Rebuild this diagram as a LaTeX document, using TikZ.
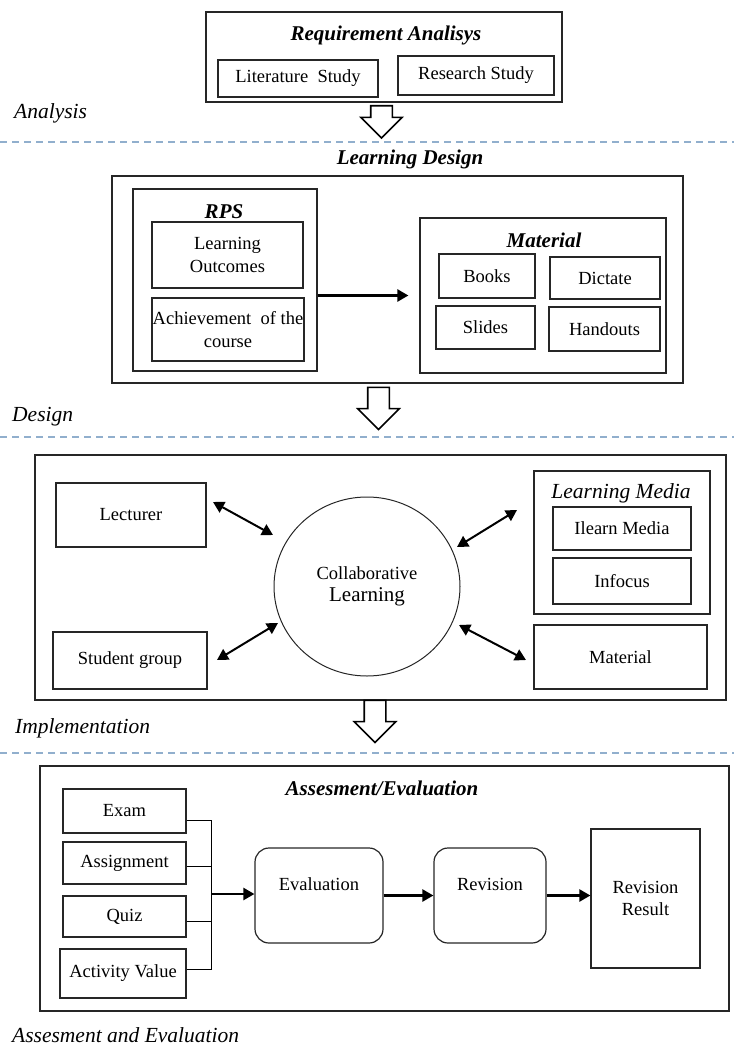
\documentclass[tikz,border=0pt]{standalone}
\usepackage{fontspec}
\setmainfont{Liberation Serif}
\usetikzlibrary{arrows.meta,shapes.geometric,shapes.arrows}

\definecolor{phaseline}{RGB}{145,175,205}
\newcommand{\bodyfont}{\fontsize{18.5}{22.5}\selectfont}
\newcommand{\headfont}{\fontsize{21}{24}\selectfont\bfseries\itshape}
\newcommand{\phasefont}{\fontsize{21.5}{24}\selectfont\itshape}

\begin{document}
\begin{tikzpicture}[x=1pt,y=-1pt,
  block/.style={draw=black!85, line width=1.2pt, inner sep=0pt, font=\bodyfont, align=center},
  rblock/.style={block, rounded corners=14pt},
  heading/.style={font=\headfont, inner sep=0pt},
  phase/.style={font=\phasefont, anchor=west, inner sep=0pt},
  divider/.style={draw=phaseline, line width=1.2pt, dash pattern=on 7pt off 5pt},
  downarrow/.style={single arrow, draw=black, line width=1.6pt, fill=white, shape border rotate=270,
    single arrow head extend=10pt, minimum width=41pt, minimum height=42pt, inner sep=10pt},
  flow/.style={line width=2.4pt, -{Triangle[length=11pt,width=12pt]}},
  both/.style={line width=2pt, {Triangle[length=11pt,width=12pt]}-{Triangle[length=11pt,width=12pt]}},
  link/.style={line width=1pt}]
 \useasboundingbox (0,0) rectangle (734,1057);

 \node[block, minimum width=356pt, minimum height=90pt] (req) at (384,57) {};
 \node[heading] (reqt) at (386,35) {Requirement Analisys};
 \node[block, minimum width=160pt, minimum height=37pt] (lit) at (298,78.5) {Literature\ \ Study};
 \node[block, minimum width=156pt, minimum height=39pt] (res) at (476,75.5) {Research Study};
 \node[phase] (ana) at (14,113) {Analysis};
 \node[downarrow, minimum height=32pt] (d1) at (381.5,116.5) {};
 \draw[divider] (0,142) -- (734,142);

 \node[heading] (ldt) at (410,159) {Learning Design};
 \node[block, minimum width=571pt, minimum height=207pt] (ld) at (397.5,279.5) {};
 \node[block, minimum width=184pt, minimum height=182pt] (rps) at (225,280) {};
 \node[heading] (rpst) at (224,212) {RPS};
 \node[block, minimum width=151pt, minimum height=66pt] (lo) at (227.5,255) {Learning\\Outcomes};
 \node[block, minimum width=152pt, minimum height=63pt] (ach) at (228,329.5) {Achievement\ \ of the\\course};
 \node[block, minimum width=246pt, minimum height=155pt] (mat) at (543,295.5) {};
 \node[heading] (matt) at (544,240) {Material};
 \node[block, minimum width=96pt, minimum height=44pt] (books) at (487,276) {Books};
 \node[block, minimum width=110pt, minimum height=42pt] (dict) at (605,278) {Dictate};
 \node[block, minimum width=99pt, minimum height=43pt] (slides) at (485.5,327.5) {Slides};
 \node[block, minimum width=111pt, minimum height=44pt] (hand) at (604.5,329) {Handouts};
 \draw[flow, shorten >=11pt] (rps.east |- mat.west) -- (mat.west);
 \node[downarrow] (d2) at (378.5,403) {};
 \node[phase] (des) at (12,417) {Design};
 \draw[divider] (0,437) -- (734,437);

 \node[block, minimum width=691pt, minimum height=245pt] (impl) at (380.5,577.5) {};
 \node[block, minimum width=150pt, minimum height=64pt] (lect) at (131,515) {Lecturer};
 \node[block, minimum width=154pt, minimum height=57pt] (stud) at (130,660.5) {Student group};
 \node[draw=black!85, line width=1pt, ellipse, minimum width=186pt, minimum height=179pt,
   inner sep=0pt, align=center, font=\bodyfont] (collab) at (367,586.5)
   {Collaborative\\{\fontsize{21}{24}\selectfont Learning}};
 \node[block, minimum width=176pt, minimum height=143pt] (media) at (622,542.5) {};
 \node[phase, anchor=center] (mediat) at (621,493) {Learning Media};
 \node[block, minimum width=138pt, minimum height=43pt] (ilearn) at (622,528.5) {Ilearn Media};
 \node[block, minimum width=138pt, minimum height=46pt] (infocus) at (622,581) {Infocus};
 \node[block, minimum width=173pt, minimum height=64pt] (mat2) at (620.5,657) {Material};
 \coordinate (lectA) at (213,502);
 \coordinate (lectB) at (273,535);
 \coordinate (studA) at (217,660);
 \coordinate (studB) at (278,623);
 \coordinate (mediaA) at (457,547);
 \coordinate (mediaB) at (517,510);
 \coordinate (matA) at (459,625);
 \coordinate (matB) at (526,660);
 \draw[both] (lectA) -- (lectB);
 \draw[both] (studA) -- (studB);
 \draw[both] (mediaA) -- (mediaB);
 \draw[both] (matA) -- (matB);
 \node[downarrow] (d3) at (375,716) {};
 \node[phase] (imp) at (15,728) {Implementation};
 \draw[divider] (0,753) -- (734,753);

 \node[block, minimum width=689pt, minimum height=245pt] (ae) at (384.5,888.5) {};
 \node[heading] (aet) at (382,788) {Assesment/Evaluation};
 \node[block, minimum width=123pt, minimum height=44pt] (exam) at (124.5,811) {Exam};
 \node[block, minimum width=123pt, minimum height=42pt] (assign) at (124.5,863) {Assignment};
 \node[block, minimum width=123pt, minimum height=41pt] (quiz) at (124.5,916.5) {Quiz};
 \node[block, minimum width=126pt, minimum height=49pt] (act) at (123,973.5) {Activity Value};
 \coordinate (bus) at (211,894);
 \draw[link] ([yshift=-9pt]exam.east) -| (bus);
 \draw[link] ([yshift=-3pt]assign.east) -- ++(25,0);
 \draw[link] ([yshift=-4.5pt]quiz.east) -- ++(25,0);
 \draw[link] ([yshift=4.5pt]act.east) -| (bus);
 \node[rblock, minimum width=128pt, minimum height=95pt] (eval) at (319,895.5) {Evaluation\\~};
 \node[rblock, minimum width=112pt, minimum height=95pt] (rev) at (490,895.5) {Revision\\~};
 \node[block, minimum width=109pt, minimum height=139pt] (result) at (645.5,898.5) {Revision\\Result};
 \draw[flow] (bus) -- (bus -| eval.west);
 \draw[flow] (eval) -- (rev);
 \draw[flow] (rev.east) -- (rev.east -| result.west);
 \node[phase] (ae2) at (12,1035) {Assesment and Evaluation};
\end{tikzpicture}
\end{document}
